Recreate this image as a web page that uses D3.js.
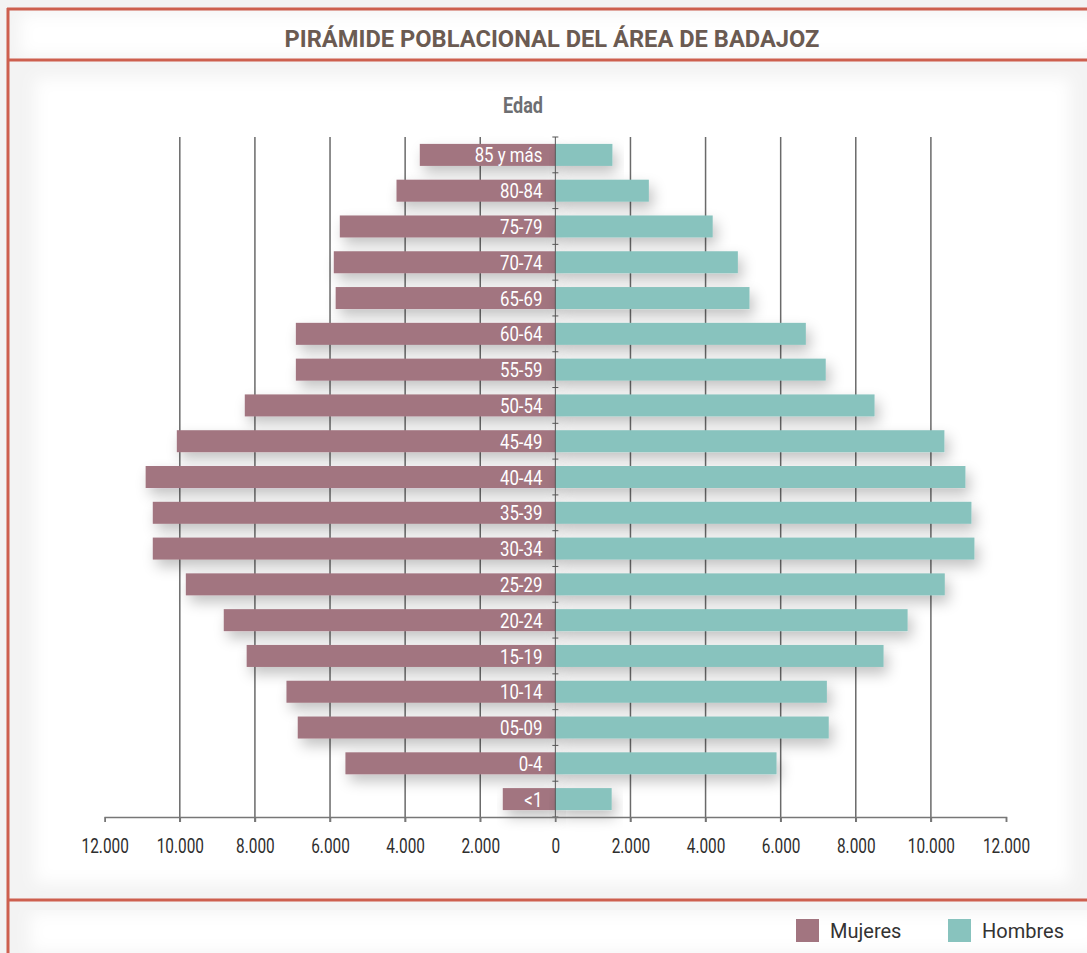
<!DOCTYPE html>
<html>
<head>
<meta charset="utf-8">
<script src="https://cdn.jsdelivr.net/npm/d3@7"></script>
<style>
  body { margin: 0; background: #f4f4f4; }
  svg { display: block; }
</style>
</head>
<body>
<svg class="chart" width="1087" height="953"></svg>
<script>
const ages = ["85 y más", "80-84", "75-79", "70-74", "65-69", "60-64", "55-59", "50-54", "45-49",
  "40-44", "35-39", "30-34", "25-29", "20-24", "15-19", "10-14", "05-09", "0-4", "<1"];
const mujeres = [3610, 4230, 5740, 5900, 5850, 6910, 6910, 8270, 10080,
  10910, 10720, 10720, 9840, 8830, 8220, 7160, 6860, 5590, 1400];
const hombres = [1520, 2490, 4190, 4860, 5170, 6670, 7200, 8500, 10360,
  10920, 11080, 11160, 10370, 9380, 8740, 7230, 7280, 5890, 1500];
const xTicks = [-12000, -10000, -8000, -6000, -4000, -2000, 0, 2000, 4000, 6000, 8000, 10000, 12000];
const seriesNames = ["Mujeres", "Hombres"];
const colors = ["#a27580", "#88c3be"];

const svg = d3.select(".chart");
const red = "#cd5f4e";

// drop shadows
const defs = svg.append("defs");
const shadow = defs.append("filter").attr("id", "shadow")
  .attr("x", "-10%").attr("y", "-80%").attr("width", "130%").attr("height", "300%");
shadow.append("feDropShadow")
  .attr("dx", 4).attr("dy", 7).attr("stdDeviation", 7)
  .attr("flood-color", "#000").attr("flood-opacity", 0.24);
const soft = defs.append("filter").attr("id", "soft")
  .attr("x", "-5%").attr("y", "-5%").attr("width", "110%").attr("height", "110%");
soft.append("feGaussianBlur").attr("stdDeviation", 8);

// panels
svg.append("rect").attr("width", 1087).attr("height", 953).attr("fill", "#f3f3f3");
svg.append("rect").attr("x", 20).attr("y", 14).attr("width", 1080).attr("height", 42)
  .attr("fill", "#fff").attr("filter", "url(#soft)");
svg.append("rect").attr("x", 35).attr("y", 78).attr("width", 1035).attr("height", 805)
  .attr("fill", "#fff").attr("filter", "url(#soft)");
svg.append("rect").attr("x", 30).attr("y", 912).attr("width", 1070).attr("height", 40)
  .attr("fill", "#fff").attr("filter", "url(#soft)");

// frame
svg.append("line").attr("x1", 7).attr("x2", 1087).attr("y1", 9).attr("y2", 9)
  .attr("stroke", red).attr("stroke-width", 3);
svg.append("line").attr("x1", 8).attr("x2", 8).attr("y1", 8).attr("y2", 953)
  .attr("stroke", red).attr("stroke-width", 3);
svg.append("line").attr("x1", 8).attr("x2", 1087).attr("y1", 60).attr("y2", 60)
  .attr("stroke", red).attr("stroke-width", 3);
svg.append("line").attr("x1", 8).attr("x2", 1087).attr("y1", 900).attr("y2", 900)
  .attr("stroke", red).attr("stroke-width", 3);

svg.append("text")
  .attr("x", 552).attr("y", 47)
  .attr("text-anchor", "middle")
  .attr("font-family", "Roboto, sans-serif").attr("font-weight", "bold").attr("font-size", 24)
  .attr("textLength", 535).attr("lengthAdjust", "spacingAndGlyphs")
  .attr("fill", "#6b5b52")
  .text("PIRÁMIDE POBLACIONAL DEL ÁREA DE BADAJOZ");

// scales
const xScale = d3.scaleLinear().domain([-12000, 12000]).range([104.7, 1006]);
const yScale = d3.scaleBand().domain(ages).range([137, 817])
  .paddingInner(0.385).paddingOuter(0.1925);
const cx = xScale(0);

const fmt = d3.formatLocale({ decimal: ",", thousands: ".", grouping: [3], currency: ["", "€"] }).format(",d");

// gridlines
svg.append("g").selectAll("line")
  .data(xTicks.filter(d => d !== 0 && Math.abs(d) < 12000))
  .join("line")
  .attr("x1", d => xScale(d)).attr("x2", d => xScale(d))
  .attr("y1", 137).attr("y2", 822)
  .attr("stroke", "#6a6a6a").attr("stroke-width", 1.5);

// bars
const rows = ages.map((a, i) => ({ age: a, m: mujeres[i], h: hombres[i] }));
const bars = svg.append("g");
bars.selectAll(".m").data(rows).join("rect").attr("class", "m")
  .attr("x", d => xScale(-d.m)).attr("width", d => cx - xScale(-d.m))
  .attr("y", d => yScale(d.age)).attr("height", yScale.bandwidth())
  .attr("fill", colors[0]).attr("filter", "url(#shadow)");
bars.selectAll(".h").data(rows).join("rect").attr("class", "h")
  .attr("x", cx).attr("width", d => xScale(d.h) - cx)
  .attr("y", d => yScale(d.age)).attr("height", yScale.bandwidth())
  .attr("fill", colors[1]).attr("filter", "url(#shadow)");

// center axis with boundary ticks
const bounds = d3.range(ages.length + 1).map(i => 137 + i * yScale.step());
const center = svg.append("g");
center.append("line").attr("x1", cx).attr("x2", cx).attr("y1", 137).attr("y2", 822)
  .attr("stroke", "#555").attr("stroke-width", 1);
center.selectAll(".tk").data(bounds).join("line").attr("class", "tk")
  .attr("x1", cx - 3).attr("x2", cx + 3).attr("y1", d => d).attr("y2", d => d)
  .attr("stroke", "#555").attr("stroke-width", 1);

// bar labels
svg.append("g").selectAll("g").data(rows).join("g")
  .attr("transform", d => `translate(${cx - 13},${yScale(d.age) + yScale.bandwidth() / 2}) scale(0.82,1)`)
  .append("text")
  .attr("text-anchor", "end").attr("dy", "0.37em")
  .attr("font-family", "Roboto, sans-serif").attr("font-size", 20.5)
  .attr("fill", "#fff")
  .text(d => d.age);

// x axis
const xAxis = d3.axisBottom(xScale).tickValues(xTicks)
  .tickSize(5).tickSizeOuter(5).tickPadding(16)
  .tickFormat(d => fmt(Math.abs(d)));
const gx = svg.append("g").attr("transform", "translate(0,817)").call(xAxis);
gx.select(".domain").attr("stroke", "#777").attr("stroke-width", 1.5);
gx.selectAll(".tick line").attr("stroke", "#777").attr("stroke-width", 1.5);
gx.selectAll(".tick text")
  .attr("font-family", "Roboto, sans-serif").attr("font-size", 20.5)
  .attr("fill", "#2e2e2e").attr("transform", "scale(0.75,1)");

svg.append("g").attr("transform", "translate(523,113) scale(0.82,1)")
  .append("text").attr("text-anchor", "middle")
  .attr("font-family", "Roboto, sans-serif").attr("font-weight", "bold").attr("font-size", 22)
  .attr("fill", "#6d6e71").text("Edad");

// legend
const legend = svg.append("g").selectAll("g").data(seriesNames).join("g")
  .attr("transform", (d, i) => `translate(${796 + i * 152},919)`);
legend.append("rect").attr("width", 23).attr("height", 23).attr("fill", (d, i) => colors[i]);
legend.append("text").attr("x", 34).attr("y", 19)
  .attr("font-family", "Roboto, sans-serif").attr("font-size", 20)
  .attr("fill", "#333").text(d => d);
</script>
</body>
</html>
